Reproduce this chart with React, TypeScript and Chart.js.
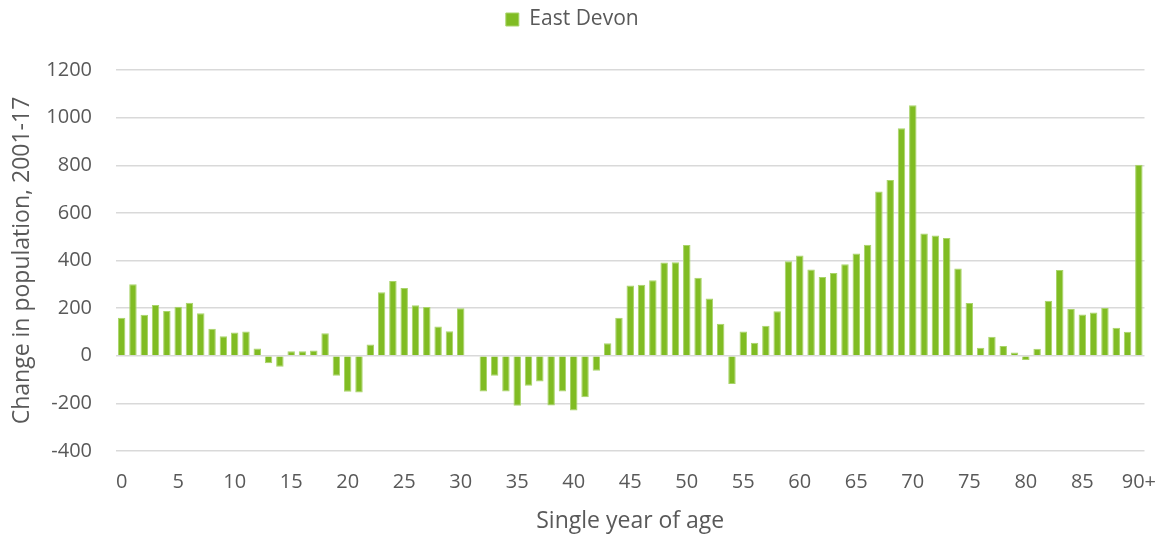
import React, { useEffect, useRef } from "react";
import { Chart, registerables } from "chart.js";

Chart.register(...registerables);

const ages: string[] = [
  "0","1","2","3","4","5","6","7","8","9",
  "10","11","12","13","14","15","16","17","18","19",
  "20","21","22","23","24","25","26","27","28","29",
  "30","31","32","33","34","35","36","37","38","39",
  "40","41","42","43","44","45","46","47","48","49",
  "50","51","52","53","54","55","56","57","58","59",
  "60","61","62","63","64","65","66","67","68","69",
  "70","71","72","73","74","75","76","77","78","79",
  "80","81","82","83","84","85","86","87","88","89",
  "90+",
];

const eastDevon: number[] = [
  160, 300, 172, 213, 188, 206, 223, 178, 113, 82,
  98, 102, 30, -32, -46, 19, 19, 22, 95, -84,
  -151, -154, 47, 267, 314, 285, 212, 205, 123, 103,
  200, -3, -150, -84, -150, -210, -126, -108, -209, -150,
  -230, -174, -63, 53, 160, 295, 298, 317, 392, 393,
  465, 328, 240, 134, -119, 102, 55, 126, 187, 397,
  421, 362, 331, 347, 384, 429, 466, 690, 738, 955,
  1052, 513, 505, 494, 366, 222, 34, 80, 41, 14,
  -18, 29, 231, 360, 196, 173, 182, 201, 118, 101,
  802,
];

const seriesName = "East Devon";
const yTitle = "Change in population, 2001-17";
const xTitle = "Single year of age";
const yMin = -400;
const yMax = 1200;
const yStep = 200;

const FONT = "'Open Sans', sans-serif";
const TEXT = "#595959";
const GREEN = "#80BC23";

export default function App() {
  const ref = useRef<HTMLCanvasElement | null>(null);

  useEffect(() => {
    if (!ref.current) return;
    const chart = new Chart(ref.current, {
      type: "bar",
      data: {
        labels: ages,
        datasets: [
          {
            label: seriesName,
            data: eastDevon,
            backgroundColor: GREEN,
            borderColor: "#A9D46A",
            borderWidth: 1,
            barPercentage: 0.66,
            categoryPercentage: 1,
          },
        ],
      },
      options: {
        animation: false,
        responsive: true,
        maintainAspectRatio: false,
        layout: { padding: { left: 0, right: 17.5, top: 0, bottom: 0 } },
        plugins: {
          legend: {
            display: true,
            position: "top",
            weight: 3000,
            labels: {
              color: TEXT,
              font: { family: FONT, size: 21 },
              boxWidth: 13,
              boxHeight: 13,
              padding: 9,
            },
          },
          subtitle: {
            display: true,
            text: "",
            font: { size: 10 },
            padding: { top: 0, bottom: 18 },
          },
          tooltip: { enabled: false },
        },
        scales: {
          x: {
            grid: { display: false, drawTicks: false },
            border: { display: false },
            ticks: {
              color: TEXT,
              font: { family: FONT, size: 20 },
              autoSkip: false,
              maxRotation: 0,
              padding: 19,
              callback: (_v: any, i: number) => (i % 5 === 0 ? ages[i] : null),
            },
            title: {
              display: true,
              text: xTitle,
              color: TEXT,
              font: { family: FONT, size: 23 },
              padding: { top: 0, bottom: 1 },
            },
            afterFit: (s: any) => {
              s.height = 85;
              s.paddingLeft = 0;
              s.paddingRight = 0;
            },
          },
          y: {
            min: yMin,
            max: yMax,
            grid: { color: "#D9D9D9", lineWidth: 1.5, drawTicks: false },
            border: { display: false },
            ticks: {
              stepSize: yStep,
              color: TEXT,
              font: { family: FONT, size: 20 },
              padding: 24,
              callback: (v: any) => String(v),
            },
            title: {
              display: true,
              text: yTitle,
              color: TEXT,
              font: { family: FONT, size: 23 },
              padding: { top: 9, bottom: 0 },
            },
            afterFit: (s: any) => {
              s.width = 116;
            },
          },
        },
      },
    });
    return () => chart.destroy();
  }, []);

  return (
    <div style={{ position: "absolute", left: 0, top: 0, width: 1162, height: 536 }}>
      <canvas ref={ref} />
    </div>
  );
}
